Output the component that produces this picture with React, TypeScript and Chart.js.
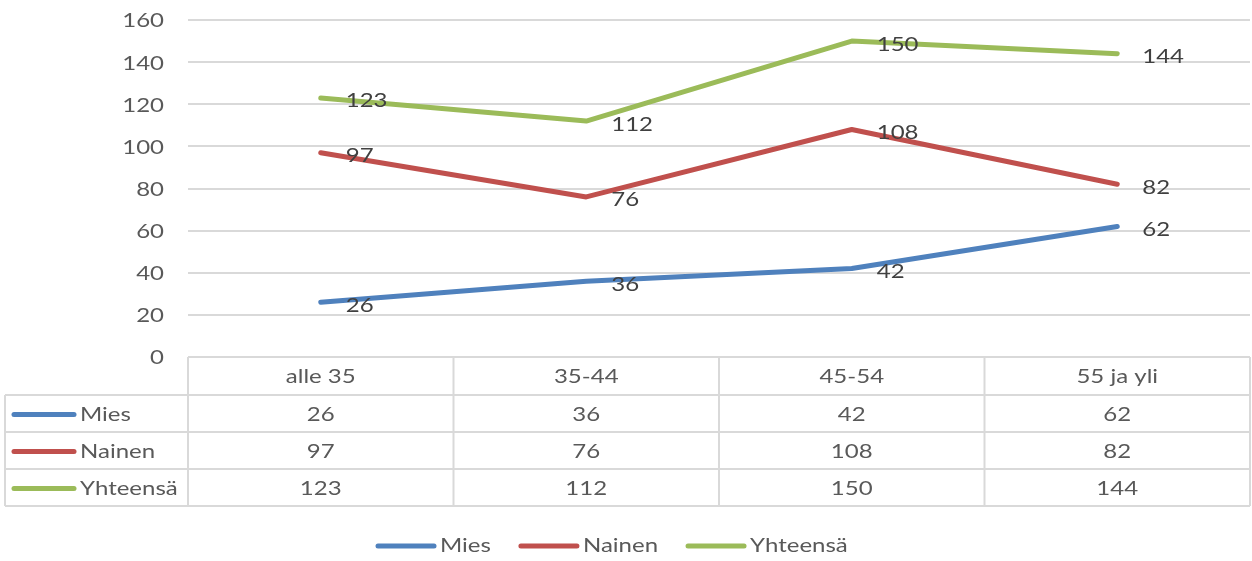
import React, { useEffect, useRef } from "react";
import { Chart, registerables } from "chart.js";

Chart.register(...registerables);

const categories = ["alle 35", "35-44", "45-54", "55 ja yli"];
const seriesNames = ["Mies", "Nainen", "Yhteensä"];
const mies = [26, 36, 42, 62];
const nainen = [97, 76, 108, 82];
const yhteensa = [123, 112, 150, 144];
const seriesColors = ["#4F81BD", "#C0504D", "#9BBB59"];
const yMin = 0;
const yMax = 160;
const yStep = 20;

const FONT = "Lato, 'Liberation Sans', sans-serif";
const FONT_SIZE = 20;
const TEXT = "#595959";
const LABEL = "#404040";
const GRID = "#D9D9D9";
const STRETCH = 1.2;

function drawText(ctx: any, text: string, x: number, y: number, align: string, color: string) {
  ctx.save();
  ctx.translate(x, y);
  ctx.scale(STRETCH, 1);
  ctx.fillStyle = color;
  ctx.textAlign = align;
  ctx.textBaseline = "middle";
  ctx.font = `${FONT_SIZE}px ${FONT}`;
  ctx.fillText(text, 0, 0);
  ctx.restore();
}

function textWidth(ctx: any, text: string) {
  ctx.save();
  ctx.font = `${FONT_SIZE}px ${FONT}`;
  const w = ctx.measureText(text).width * STRETCH;
  ctx.restore();
  return w;
}

const tablePlugin = {
  id: "excelTable",
  afterDraw(chart: any) {
    const ctx = chart.ctx;
    const xs = chart.scales.x;
    const ys = chart.scales.y;
    const area = chart.chartArea;
    const n = categories.length;
    const w = xs.getPixelForValue(1) - xs.getPixelForValue(0);
    const left = area.left;
    const right = area.right;
    const top = area.bottom;
    const headerH = 38;
    const rowH = 37;
    const tableLeft = 5;
    const rowsTop = top + headerH;
    const bottom = rowsTop + rowH * seriesNames.length;

    ctx.save();
    // y tick labels
    ys.ticks.forEach((t: any) => {
      drawText(ctx, String(t.value), left - 24, ys.getPixelForValue(t.value) + 1, "right", TEXT);
    });

    // data labels
    chart.data.datasets.forEach((ds: any, di: number) => {
      const meta = chart.getDatasetMeta(di);
      meta.data.forEach((pt: any, i: number) => {
        drawText(ctx, String(ds.data[i]), pt.x + 25, pt.y + 3, "left", LABEL);
      });
    });

    // table grid
    ctx.strokeStyle = GRID;
    ctx.lineWidth = 2;
    ctx.beginPath();
    ctx.moveTo(left, top);
    ctx.lineTo(right, top);
    for (let r = 0; r <= seriesNames.length; r++) {
      const y = rowsTop + r * rowH;
      ctx.moveTo(tableLeft, y);
      ctx.lineTo(right, y);
    }
    ctx.moveTo(tableLeft, rowsTop);
    ctx.lineTo(tableLeft, bottom);
    for (let i = 0; i <= n; i++) {
      const x = Math.min(left + i * w, right);
      ctx.moveTo(x, top);
      ctx.lineTo(x, bottom);
    }
    ctx.stroke();

    // header
    categories.forEach((c, i) => {
      drawText(ctx, c, xs.getPixelForValue(i), top + headerH / 2 + 1, "center", TEXT);
    });

    // rows
    chart.data.datasets.forEach((ds: any, di: number) => {
      const cy = rowsTop + di * rowH + rowH / 2 + 1;
      ctx.strokeStyle = ds.borderColor;
      ctx.lineWidth = 5;
      ctx.lineCap = "round";
      ctx.beginPath();
      ctx.moveTo(14, cy);
      ctx.lineTo(74, cy);
      ctx.stroke();
      drawText(ctx, ds.label, 80, cy, "left", TEXT);
      ds.data.forEach((v: number, i: number) => {
        drawText(ctx, String(v), xs.getPixelForValue(i), cy, "center", TEXT);
      });
    });

    // legend
    const ly = 546;
    const keyW = 60;
    const gap = 4;
    const itemGap = 28;
    let lx = 376;
    chart.data.datasets.forEach((ds: any) => {
      ctx.strokeStyle = ds.borderColor;
      ctx.lineWidth = 5;
      ctx.lineCap = "round";
      ctx.beginPath();
      ctx.moveTo(lx + 2, ly);
      ctx.lineTo(lx + keyW - 2, ly);
      ctx.stroke();
      drawText(ctx, ds.label, lx + keyW + gap, ly, "left", TEXT);
      lx += keyW + gap + textWidth(ctx, ds.label) + itemGap;
    });
    ctx.restore();
  },
};

export default function App() {
  const ref = useRef<HTMLCanvasElement | null>(null);
  useEffect(() => {
    if (!ref.current) return;
    const values = [mies, nainen, yhteensa];
    const chart = new Chart(ref.current, {
      type: "line",
      data: {
        labels: categories,
        datasets: seriesNames.map((name, i) => ({
          label: name,
          data: values[i],
          borderColor: seriesColors[i],
          backgroundColor: seriesColors[i],
          borderWidth: 5,
          borderCapStyle: "round",
          borderJoinStyle: "round",
          pointRadius: 0,
          tension: 0,
        })),
      },
      options: {
        responsive: false,
        animation: false,
        layout: { padding: { top: 20, right: 2, left: 0, bottom: 0 } },
        plugins: {
          legend: { display: false },
          tooltip: { enabled: false },
        },
        scales: {
          x: {
            offset: true,
            grid: { display: false },
            border: { display: false },
            ticks: { display: false },
            afterFit: (s: any) => {
              s.height = 204;
            },
          },
          y: {
            min: yMin,
            max: yMax,
            grid: { color: GRID, lineWidth: 2, drawTicks: false },
            border: { display: false },
            ticks: { stepSize: yStep, display: false },
            afterFit: (s: any) => {
              s.width = 188;
            },
          },
        },
      },
      plugins: [tablePlugin],
    });
    return () => chart.destroy();
  }, []);
  return (
    <div style={{ position: "fixed", left: 0, top: 0, width: 1252, height: 561, background: "#fff" }}>
      <canvas ref={ref} width={1252} height={561} style={{ width: 1252, height: 561 }} />
    </div>
  );
}
